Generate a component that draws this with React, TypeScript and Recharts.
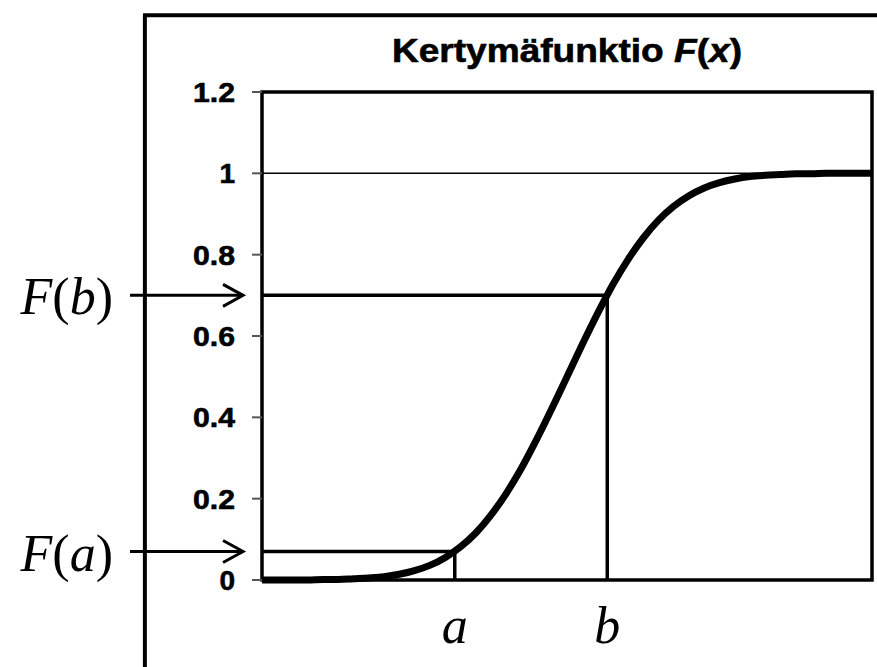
import React from 'react';
import { LineChart, Line, XAxis, YAxis, ReferenceLine, ReferenceArea } from 'recharts';

// x positions (arbitrary horizontal units, 0..100 across the plot)
const xValues = [
  0, 2.5, 5, 7.5, 10, 12.5, 15, 17.5, 20, 22.5, 25, 27.5, 30, 32.5, 35, 37.5, 40, 42.5, 45, 47.5,
  50, 52.5, 55, 57.5, 60, 62.5, 65, 67.5, 70, 72.5, 75, 77.5, 80, 82.5, 85, 87.5, 90, 92.5, 95, 97.5, 100,
];
// F(x)
const cdfValues = [
  0, 0, 0, 0, 0.001, 0.001, 0.003, 0.005, 0.008, 0.014, 0.023, 0.036, 0.055, 0.081, 0.115, 0.159,
  0.212, 0.274, 0.345, 0.421, 0.5, 0.579, 0.655, 0.726, 0.788, 0.841, 0.885, 0.919, 0.945, 0.964,
  0.977, 0.986, 0.992, 0.995, 0.997, 0.999, 0.999, 1, 1, 1, 1,
];
const yTicks = [0, 0.2, 0.4, 0.6, 0.8, 1, 1.2];
const yTickLabels = ['0', '0.2', '0.4', '0.6', '0.8', '1', '1.2'];
const titleText = 'Kertymäfunktio ';
const aX = 31.6;
const aF = 0.07;
const bX = 56.6;
const bF = 0.7;

const data = xValues.map((x, i) => ({ x, F: cdfValues[i] }));

const SANS = "'Liberation Sans', Arial, Helvetica, sans-serif";
const SERIF = "'Liberation Serif', 'Times New Roman', Times, serif";

const YTick = (props: any) => {
  const { x, y, payload } = props;
  const idx = yTicks.findIndex((t) => Math.abs(t - payload.value) < 1e-6);
  const label = idx >= 0 ? yTickLabels[idx] : String(payload.value);
  const extra: any = label.length > 1 ? { textLength: 42, lengthAdjust: 'spacingAndGlyphs' } : {};
  return (
    <text
      x={x}
      y={y}
      dy={10}
      textAnchor="end"
      fontFamily={SANS}
      fontWeight="bold"
      fontSize={28}
      fill="#000"
      stroke="#000"
      strokeWidth={0.6}
      {...extra}
    >
      {label}
    </text>
  );
};

const TitleLabel = (props: any) => {
  const vb = props.viewBox;
  const cx = vb.x + vb.width / 2;
  return (
    <text
      x={cx}
      y={vb.y - 30}
      textAnchor="middle"
      fontFamily={SANS}
      fontWeight="bold"
      fontSize={33}
      fill="#000"
      stroke="#000"
      strokeWidth={0.6}
      textLength={350}
      lengthAdjust="spacingAndGlyphs"
    >
      {titleText}
      <tspan fontStyle="italic">F</tspan>(<tspan fontStyle="italic">x</tspan>)
    </text>
  );
};

const makeArrowLabel = (arg: string) => (props: any) => {
  const { x, y, width } = props.viewBox;
  const tip = x + width;
  return (
    <g>
      <path d={`M${tip - 20},${y - 11}L${tip},${y}L${tip - 20},${y + 11}`} fill="none" stroke="#000" strokeWidth={3} />
      <text x={x - 17} y={y + 19} textAnchor="end" fontFamily={SERIF} fontSize={52} fill="#000">
        <tspan fontStyle="italic">F</tspan>(<tspan fontStyle="italic">{arg}</tspan>)
      </text>
    </g>
  );
};

const makeBelowLabel = (name: string) => (props: any) => {
  const { x, y, height } = props.viewBox;
  return (
    <text x={x} y={y + height + 63} textAnchor="middle" fontFamily={SERIF} fontStyle="italic" fontSize={52} fill="#000">
      {name}
    </text>
  );
};

export default function App() {
  return (
    <div style={{ position: 'absolute', left: 0, top: 0, width: 877, height: 667, background: '#fff' }}>
      <LineChart width={877} height={667} data={data} margin={{ top: 92, right: 5, bottom: 87, left: 0 }}>
        <XAxis type="number" dataKey="x" domain={[0, 100]} hide />
        <YAxis
          type="number"
          domain={[0, 1.2]}
          ticks={yTicks}
          interval={0}
          width={262}
          axisLine={false}
          tickLine={{ stroke: '#555', strokeWidth: 2 }}
          tickSize={10}
          tickMargin={17}
          tick={<YTick />}
        />
        {/* outer frame */}
        <ReferenceLine
          segment={[{ x: -19.2, y: 1.389 }, { x: -19.2, y: -0.214 }]}
          stroke="#000"
          strokeWidth={4}
          ifOverflow="visible"
        />
        <ReferenceLine
          segment={[{ x: -19.5, y: 1.389 }, { x: 100.82, y: 1.389 }]}
          stroke="#000"
          strokeWidth={4}
          ifOverflow="visible"
        />
        <ReferenceLine y={1} stroke="#000" strokeWidth={1.5} />
        <ReferenceLine segment={[{ x: 0, y: aF }, { x: aX, y: aF }]} stroke="#000" strokeWidth={3.5} />
        <ReferenceLine
          segment={[{ x: aX, y: 0 }, { x: aX, y: aF }]}
          stroke="#000"
          strokeWidth={3.5}
          label={makeBelowLabel('a')}
        />
        <ReferenceLine segment={[{ x: 0, y: bF }, { x: bX, y: bF }]} stroke="#000" strokeWidth={3.5} />
        <ReferenceLine
          segment={[{ x: bX, y: 0 }, { x: bX, y: bF }]}
          stroke="#000"
          strokeWidth={3.5}
          label={makeBelowLabel('b')}
        />
        <ReferenceLine
          segment={[{ x: -21.64, y: bF }, { x: -3.11, y: bF }]}
          stroke="#000"
          strokeWidth={3}
          ifOverflow="visible"
          label={makeArrowLabel('b')}
        />
        <ReferenceLine
          segment={[{ x: -21.64, y: aF }, { x: -3.11, y: aF }]}
          stroke="#000"
          strokeWidth={3}
          ifOverflow="visible"
          label={makeArrowLabel('a')}
        />
        <Line
          type="monotone"
          dataKey="F"
          stroke="#000"
          strokeWidth={7}
          dot={false}
          activeDot={false}
          isAnimationActive={false}
        />
        <ReferenceArea
          x1={0}
          x2={100}
          y1={0}
          y2={1.2}
          fill="none"
          fillOpacity={0}
          stroke="#000"
          strokeWidth={3.5}
          strokeOpacity={1}
          label={TitleLabel}
        />
      </LineChart>
    </div>
  );
}
